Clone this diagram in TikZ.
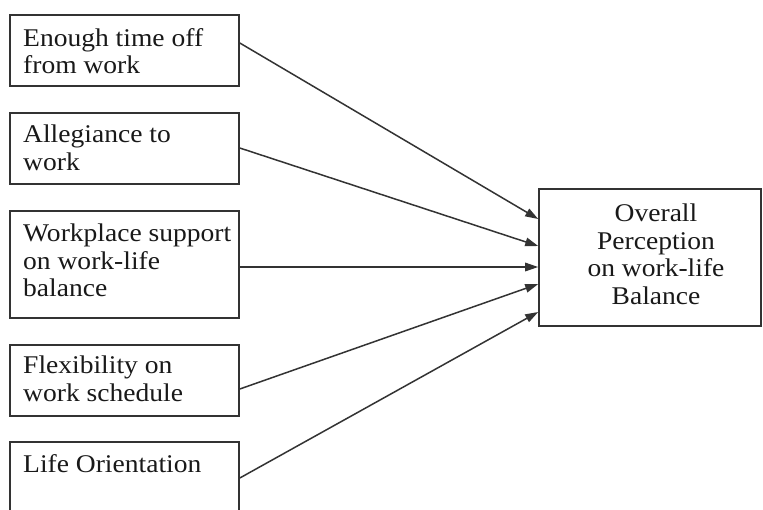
\documentclass[tikz,border=0pt]{standalone}
\usepackage{fontspec}
\setmainfont{Liberation Serif}[FakeStretch=1.08]
\usetikzlibrary{arrows.meta}
\begin{document}
\begin{tikzpicture}[x=1pt,y=-1pt,
  box/.style={draw=black!80, line width=1.6pt, inner sep=0pt},
  txt/.style={anchor=north west, inner sep=0pt, align=left, text=black!90,
    font=\fontsize{25.5}{27.5}\selectfont},
  link/.style={draw=black!80, line width=1.5pt, -{Triangle[length=13pt,width=8.5pt]}}]
\useasboundingbox (0,0) rectangle (763,509);
\clip (0,0) rectangle (763,509);
\fill[white] (0,0) rectangle (763,509);

% factor boxes on the left
\node[box, minimum width=229pt, minimum height=71pt]  (b1) at (124.5,50.5) {};
\node[box, minimum width=229pt, minimum height=71pt]  (b2) at (124.5,148.5) {};
\node[box, minimum width=229pt, minimum height=107pt] (b3) at (124.5,264.5) {};
\node[box, minimum width=229pt, minimum height=71pt]  (b4) at (124.5,380.5) {};
\node[box, minimum width=229pt, minimum height=72pt]  (b5) at (124.5,478) {};

\node[txt] (t1) at (23,28)  {Enough time off\\from work};
\node[txt] (t2) at (23,125) {Allegiance to\\work};
\node[txt] (t3) at (23,224) {Workplace support\\on work-life\\balance};
\node[txt] (t4) at (23,356) {Flexibility on\\work schedule};
\node[txt] (t5) at (23,454) {Life Orientation};

% outcome box on the right
\node[box, minimum width=222pt, minimum height=137pt] (out) at (650,257.5) {};
\node[txt, anchor=north, align=center] (tout) at (656,204)
  {Overall\\Perception\\on work-life\\Balance};

% links
\draw[link] ([yshift=7.5pt]b1.east)  -- ([yshift=38.5pt]out.west);
\draw[link] ([yshift=0.5pt]b2.east)  -- ([yshift=11.5pt]out.west);
\draw[link] ([yshift=-2.5pt]b3.east) -- ([yshift=-9.5pt]out.west);
\draw[link] ([yshift=-8.5pt]b4.east) -- ([yshift=-26.5pt]out.west);
\draw[link] (b5.east)                -- ([yshift=-54.5pt]out.west);
\end{tikzpicture}
\end{document}
